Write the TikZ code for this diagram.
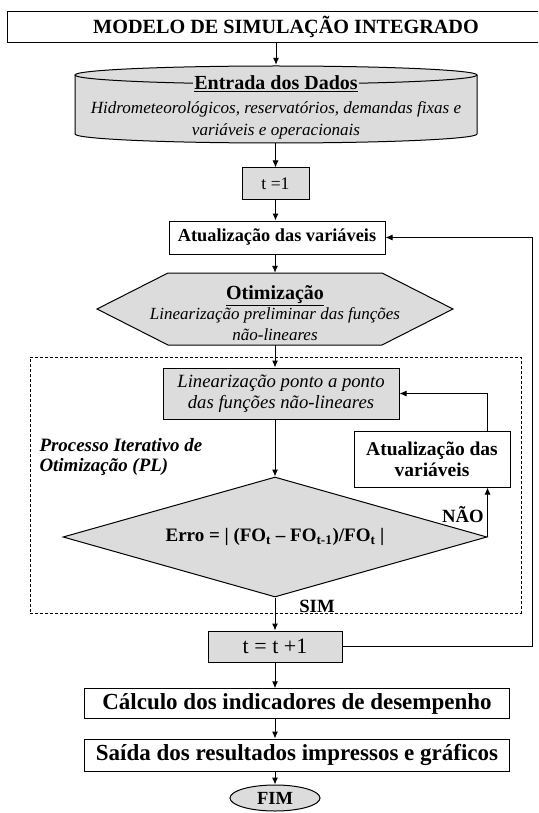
\documentclass[tikz,border=0pt]{standalone}
\usepackage{fontspec}
\setmainfont{Liberation Serif}
\usetikzlibrary{arrows.meta,shapes.geometric}
\definecolor{boxgray}{HTML}{DCDCDC}
\newcommand\fsz[1]{\fontsize{#1}{21}\selectfont}
\tikzset{
  ln/.style={line width=1pt, draw=black},
  arr/.style={line width=1pt, -{Latex[length=7pt,width=6pt]}},
  whitebox/.style={draw, line width=1pt, fill=white, inner sep=0pt},
  graybox/.style={draw, line width=1pt, fill=boxgray, inner sep=0pt},
  lbl/.style={font=\bfseries\fsz{18.7}, inner sep=0pt},
}
\begin{document}
\begin{tikzpicture}[x=1pt,y=-1pt]
\clip (0,0) rectangle (538,813);
\fill[white] (0,0) rectangle (538,813);

% title
\node[draw, line width=1pt, minimum width=560, minimum height=31, anchor=north west, inner sep=0pt] (title) at (7,11) {};
\node[font=\bfseries\fsz{20.2}] (titletext) at (286,27) {MODELO DE SIMULAÇÃO INTEGRADO};

% data cylinder
\fill[boxgray] (75,75) -- (75,134) arc[start angle=180, end angle=0, x radius=201, y radius=9]
  -- (477,75) arc[start angle=0, end angle=-180, x radius=201, y radius=9] -- cycle;
\draw[ln] (75,75) -- (75,134) arc[start angle=180, end angle=0, x radius=201, y radius=9] -- (477,75);
\draw[ln] (276,75) ellipse[x radius=201, y radius=9];
\node[minimum width=402, minimum height=78, inner sep=0pt] (data) at (276,104) {};
\node[font=\bfseries\fsz{20}, fill=boxgray, inner sep=1pt] (datatitle) at (276,84) {\underline{Entrada dos Dados}};
\node[font=\itshape\fontsize{17.1}{22}\selectfont, align=center] (datatext) at (276,120) {Hidrometeorológicos, reservatórios, demandas fixas e\\variáveis e operacionais};

% t = 1
\node[graybox, font=\fsz{17.6}, minimum width=67, minimum height=31] (t1) at (275.5,183.5) {t =1};

% atualizacao
\node[whitebox, font=\bfseries\fsz{18.3}, minimum width=216, minimum height=33] (atual) at (277,237.5) {Atualização das variáveis};

% hexagon
\draw[ln, fill=boxgray] (97,309) -- (168,273) -- (382,273) -- (453,309) -- (382,345) -- (168,345) -- cycle;
\node[minimum width=356, minimum height=72, inner sep=0pt] (otim) at (275,309) {};
\node[font=\fontsize{17}{20.5}\selectfont, align=center] (otimtext) at (275,313) {\textbf{\fsz{20}\underline{Otimização}}\\\textit{Linearização preliminar das funções}\\\textit{não-lineares}};

% dashed frame
\node[draw, dash pattern=on 3pt off 2pt, line width=0.8pt, minimum width=491, minimum height=256, inner sep=0pt] (iter) at (275.5,485) {};

% linearization box
\node[graybox, font=\itshape\fontsize{18.7}{21}\selectfont, align=center, minimum width=236, minimum height=51] (lin) at (281,393.5) {Linearização ponto a ponto\\das funções não-lineares};

% diamond
\node[diamond, draw, line width=1pt, fill=boxgray, minimum width=424, minimum height=120, inner sep=0pt, aspect=3.53, font=\bfseries\fsz{19}] (erro) at (275,537) {Erro = | (FO\textsubscript{t} – FO\textsubscript{t-1})/FO\textsubscript{t} |};

% right update box
\node[whitebox, align=center, font=\bfseries\fontsize{19.5}{21}\selectfont, minimum width=156, minimum height=56] (atual2) at (432,459) {Atualização das\\variáveis};

% labels
\node[font=\bfseries\itshape\fontsize{18.9}{20}\selectfont, align=left, anchor=west] (proc) at (36,457) {Processo Iterativo de\\Otimização (PL)};
\node[lbl] (nao) at (463,515) {NÃO};
\node[lbl] (sim) at (317,606) {SIM};

% t = t+1
\node[graybox, font=\fsz{22}, minimum width=134, minimum height=31] (t2) at (275,646.5) {t = t +1};

% bottom boxes
\node[whitebox, font=\bfseries\fsz{23}, minimum width=425, minimum height=29.5] (calc) at (297,703.5) {Cálculo dos indicadores de desempenho};
\node[whitebox, font=\bfseries\fsz{23}, minimum width=425, minimum height=32] (saida) at (297,755) {Saída dos resultados impressos e gráficos};
\node[ellipse, draw, line width=1pt, fill=boxgray, minimum width=90, minimum height=26, inner sep=0pt, font=\bfseries\fsz{18.5}] (fim) at (275,798) {FIM};

% connectors
\draw[arr] (title.south -| data.north) -- (data.north);
\draw[arr] (data.south -| t1.north) -- (t1.north);
\draw[arr] (t1.south) -- (t1.south |- atual.north);
\draw[arr] (atual.south -| otim.north) -- (otim.north);
\draw[arr] (otim.south) -- (otim.south |- lin.north);
\draw[arr] (lin.south -| erro.north) -- (erro.north);
\draw[arr] (erro.east) -- (erro.east |- atual2.south);
\draw[arr] (atual2.north -| erro.east) |- (lin.east);
\draw[arr] (erro.south) -- (t2.north);
\coordinate (fb) at (532,0);
\draw[arr] (t2.east) -- (t2.east -| fb) -- (fb |- atual.east) -- (atual.east);
\draw[arr] (t2.south) -- (t2.south |- calc.north);
\draw[arr] (calc.south -| t2.south) -- (t2.south |- saida.north);
\draw[arr] (saida.south -| fim.north) -- (fim.north);
\end{tikzpicture}
\end{document}
